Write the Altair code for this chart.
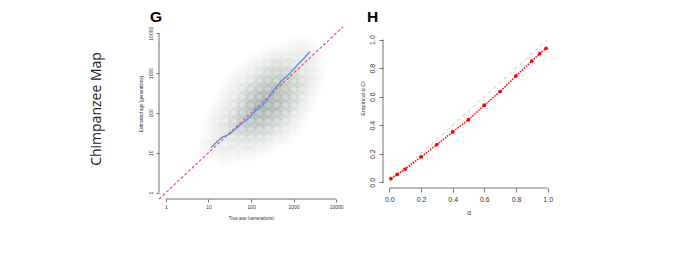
import altair as alt
import pandas as pd

# ---------------- Panel G data ----------------
# scatter cloud, summarised as a density on a log10 grid
grid_log_x = [0.9, 1.1, 1.3, 1.5, 1.7, 1.9, 2.1, 2.3, 2.5, 2.7, 2.9, 3.1, 3.3, 3.5, 3.7]
grid_log_y = [3.7, 3.5, 3.3, 3.1, 2.9, 2.7, 2.5, 2.3, 2.1, 1.9, 1.7, 1.5, 1.3, 1.1, 0.9]
cloud_density = [
    [0, 0, 0, 0, 0, 0, 0, 0, 0, 0, 0, 1, 1, 0, 0],
    [0, 0, 0, 0, 0, 0, 0, 0, 1, 1, 1, 1, 1, 1, 0],
    [0, 0, 0, 0, 0, 0, 1, 1, 2, 2, 2, 2, 1, 1, 0],
    [0, 0, 0, 0, 0, 1, 1, 2, 3, 3, 3, 2, 1, 1, 0],
    [0, 0, 0, 0, 1, 1, 2, 3, 4, 4, 4, 3, 2, 1, 0],
    [0, 0, 0, 1, 1, 2, 3, 5, 5, 5, 4, 3, 2, 1, 0],
    [0, 0, 0, 1, 2, 3, 5, 6, 6, 6, 4, 3, 1, 0, 0],
    [0, 0, 1, 1, 2, 4, 6, 7, 7, 5, 4, 2, 1, 0, 0],
    [0, 0, 1, 2, 3, 5, 7, 7, 6, 5, 3, 2, 1, 0, 0],
    [0, 1, 1, 2, 4, 5, 6, 6, 5, 4, 2, 1, 0, 0, 0],
    [0, 1, 1, 3, 4, 5, 5, 4, 3, 2, 1, 1, 0, 0, 0],
    [0, 1, 2, 2, 3, 3, 3, 3, 2, 1, 1, 0, 0, 0, 0],
    [0, 1, 1, 2, 2, 2, 2, 1, 1, 1, 0, 0, 0, 0, 0],
    [1, 1, 1, 1, 1, 1, 1, 1, 0, 0, 0, 0, 0, 0, 0],
    [0, 0, 1, 1, 0, 1, 0, 0, 0, 0, 0, 0, 0, 0, 0],
]

# running median (blue)
blue_true = [11.5, 20.4, 31.6, 55, 89, 126, 178, 251, 355, 501, 794, 1175, 1778, 2455]
blue_est = [13.5, 24, 29.5, 50, 74, 112, 151, 224, 398, 603, 955, 1514, 2399, 3467]

g_ticks = [1, 10, 100, 1000, 10000]
g_lo = 10 ** -0.16      # plot region limits (log axes)
g_hi = 10 ** 4.16
g_top = 10 ** 4.633

# ---------------- Panel H data ----------------
alpha_levels = [0.01, 0.05, 0.1, 0.2, 0.3, 0.4, 0.5, 0.6, 0.7, 0.8, 0.9, 0.95, 0.99]
empirical_ci = [0.026, 0.056, 0.093, 0.178, 0.264, 0.353, 0.439, 0.540, 0.636, 0.745, 0.850, 0.902, 0.939]
h_ticks = [0.0, 0.2, 0.4, 0.6, 0.8, 1.0]
h_lo = -0.04
h_hi = 1.04
h_top = 1.2214

FONT = "Liberation Sans"
TXT = "#333333"
LINE = "#707070"
NOVIEW = alt.ViewBackground(stroke="transparent", strokeWidth=0, fill="white")

# ---------------- build panel G ----------------
cloud_rows = []
for i, ly in enumerate(grid_log_y):
    for j, lx in enumerate(grid_log_x):
        d = cloud_density[i][j]
        if d > 0:
            cloud_rows.append({"x": 10 ** lx, "y": 10 ** ly, "d": d})
cloud_df = pd.DataFrame(cloud_rows)

gx = alt.Scale(type="log", domain=[g_lo, g_hi], nice=False)
gy = alt.Scale(type="log", domain=[g_lo, g_top], nice=False)
gx_axis = alt.Axis(values=g_ticks, format="d", title="True age (generations)", grid=False,
                   domain=False, tickSize=3, tickColor=LINE, labelFontSize=5, labelColor=TXT,
                   labelPadding=2, labelFlush=False, labelOverlap=False,
                   titleFontSize=4.5, titleFontWeight="normal", titleColor=TXT, titlePadding=6)
gy_axis = alt.Axis(values=g_ticks, format="d", title="Estimated age (generations)", grid=False,
                   domain=False, tickSize=3, tickColor=LINE, labelFontSize=5, labelColor=TXT,
                   labelAngle=270, labelAlign="center", labelBaseline="bottom",
                   labelPadding=2.5, labelFlush=False, labelOverlap=False,
                   titleFontSize=4.5, titleFontWeight="normal", titleColor=TXT, titlePadding=5)


def gX(f="x"):
    return alt.X(f"{f}:Q", scale=gx, axis=gx_axis)


def gY(f="y"):
    return alt.Y(f"{f}:Q", scale=gy, axis=gy_axis)


cloud = alt.Chart(cloud_df).mark_circle(color="#4a5e50", size=460, strokeWidth=0).encode(
    x=gX(), y=gY(),
    opacity=alt.Opacity("d:Q", scale=alt.Scale(domain=[0, 9], range=[0, 0.125]), legend=None),
)
diag_g = alt.Chart(pd.DataFrame({"x": [g_lo, g_hi], "y": [g_lo, g_hi]})).mark_line(
    color="#f2506c", strokeDash=[3, 2], strokeWidth=1.2).encode(x=gX(), y=gY())
blue = alt.Chart(pd.DataFrame({"x": blue_true, "y": blue_est})).mark_line(
    color="#4a8fe0", strokeWidth=1.3).encode(x=gX(), y=gY())
gxline = alt.Chart(pd.DataFrame({"x": [g_ticks[0]], "x2": [g_ticks[-1]], "y": [g_lo]})).mark_rule(
    color=LINE, strokeWidth=1).encode(x=gX(), x2="x2:Q", y=gY())
gyline = alt.Chart(pd.DataFrame({"y": [g_ticks[0]], "y2": [g_ticks[-1]], "x": [g_lo]})).mark_rule(
    color=LINE, strokeWidth=1).encode(y=gY(), y2="y2:Q", x=gX())
glabel = alt.Chart(pd.DataFrame({"t": ["G"]})).mark_text(
    fontSize=15.5, fontWeight="bold", align="left", baseline="alphabetic", font=FONT,
    color="black").encode(text="t:N", x=alt.value(-9), y=alt.value(14))

panel_g = alt.layer(cloud, diag_g, blue, gxline, gyline, glabel).properties(
    width=184, height=191, view=NOVIEW)

# ---------------- build panel H ----------------
hx = alt.Scale(domain=[h_lo, h_hi], nice=False, zero=False)
hy = alt.Scale(domain=[h_lo, h_top], nice=False, zero=False)
hx_axis = alt.Axis(values=h_ticks, format=".1f", title="α", grid=False, domain=False,
                   tickSize=4, tickColor=LINE, labelFontSize=7, labelColor=TXT, labelPadding=3,
                   labelFlush=False, labelOverlap=False,
                   titleFontSize=6.5, titleFontWeight="normal", titleColor=TXT, titlePadding=7)
hy_axis = alt.Axis(values=h_ticks, format=".1f", title="Empirical α CI", grid=False, domain=False,
                   tickSize=4, tickColor=LINE, labelFontSize=7, labelColor=TXT,
                   labelAngle=270, labelAlign="center", labelBaseline="bottom", labelPadding=3.5,
                   labelFlush=False, labelOverlap=False,
                   titleFontSize=5.5, titleFontWeight="normal", titleColor=TXT, titlePadding=3)


def hX(f="x"):
    return alt.X(f"{f}:Q", scale=hx, axis=hx_axis)


def hY(f="y"):
    return alt.Y(f"{f}:Q", scale=hy, axis=hy_axis)


h_df = pd.DataFrame({"x": alpha_levels, "y": empirical_ci})
diag_h = alt.Chart(pd.DataFrame({"x": [0.0, 1.0], "y": [0.0, 1.0]})).mark_line(
    color="#c8c8c8", strokeDash=[4, 3], strokeWidth=1).encode(x=hX(), y=hY())
h_line = alt.Chart(h_df).mark_line(color="#ff0000", strokeDash=[1.5, 1.2], strokeWidth=1.5).encode(
    x=hX(), y=hY())
h_pts = alt.Chart(h_df).mark_circle(color="#ff0000", size=14, opacity=1).encode(x=hX(), y=hY())
hxline = alt.Chart(pd.DataFrame({"x": [h_ticks[0]], "x2": [h_ticks[-1]], "y": [h_lo]})).mark_rule(
    color=LINE, strokeWidth=1).encode(x=hX(), x2="x2:Q", y=hY())
hyline = alt.Chart(pd.DataFrame({"y": [h_ticks[0]], "y2": [h_ticks[-1]], "x": [h_lo]})).mark_rule(
    color=LINE, strokeWidth=1).encode(y=hY(), y2="y2:Q", x=hX())
hlabel = alt.Chart(pd.DataFrame({"t": ["H"]})).mark_text(
    fontSize=15.5, fontWeight="bold", align="left", baseline="alphabetic", font=FONT,
    color="black").encode(text="t:N", x=alt.value(-16), y=alt.value(14))

panel_h = alt.layer(diag_h, h_line, h_pts, hxline, hyline, hlabel).properties(
    width=171, height=180, view=NOVIEW)

# ---------------- row label ----------------
row_label = alt.Chart(pd.DataFrame({"t": ["Chimpanzee Map"]})).mark_text(
    angle=270, fontSize=14, font="Open Sans", color="#222222").encode(
    text="t:N", x=alt.value(89), y=alt.value(101)).properties(width=111, height=191, view=NOVIEW)

chart = alt.hconcat(row_label, panel_g, panel_h, spacing=40, bounds="flush").properties(
    padding=0, background="white"
).configure_view(strokeOpacity=0, strokeWidth=0, fill="white").configure(font=FONT)

chart.save("out.html", embed_options={"renderer": "svg", "actions": False})
